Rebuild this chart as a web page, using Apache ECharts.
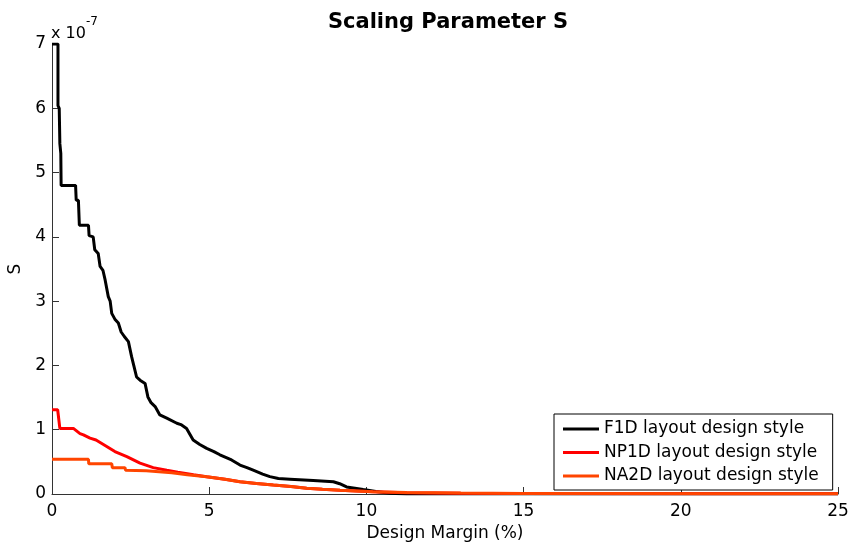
<!DOCTYPE html>
<html>
<head>
<meta charset="utf-8">
<script src="https://cdn.jsdelivr.net/npm/echarts@6/dist/echarts.min.js"></script>
<style>html,body{margin:0;padding:0;background:#fff}#c{width:853px;height:546px}</style>
</head>
<body>
<div id="c"></div>
<script>
// Values in units of 1e-7 (axis multiplier shown as "x 10^-7")
const seriesNames = ['F1D layout design style', 'NP1D layout design style', 'NA2D layout design style'];
const xTicks = [0, 5, 10, 15, 20, 25];
const yTicks = [0, 1, 2, 3, 4, 5, 6, 7];
const f1dX = [0, 0.19, 0.19, 0.23, 0.25, 0.28, 0.29, 0.75, 0.77, 0.84, 0.87, 1.16, 1.18, 1.31, 1.36, 1.47, 1.53, 1.62, 1.69, 1.79, 1.85, 1.9, 2.0, 2.11, 2.2, 2.3, 2.43, 2.53, 2.6, 2.69, 2.8, 2.96, 3.05, 3.15, 3.28, 3.43, 3.65, 3.97, 4.1, 4.28, 4.49, 4.7, 4.92, 5.15, 5.34, 5.71, 5.98, 6.2, 6.4, 6.7, 6.93, 7.2, 7.57, 8.31, 8.95, 9.15, 9.37, 9.9, 10.3, 10.75, 11.28, 25];
const f1dY = [7.0, 7.0, 6.04, 6.0, 5.45, 5.3, 4.8, 4.8, 4.57, 4.57, 4.18, 4.18, 4.02, 4.0, 3.8, 3.74, 3.54, 3.48, 3.33, 3.07, 3.0, 2.81, 2.72, 2.66, 2.52, 2.45, 2.37, 2.14, 2.0, 1.82, 1.77, 1.72, 1.51, 1.42, 1.36, 1.23, 1.18, 1.1, 1.08, 1.02, 0.84, 0.77, 0.71, 0.66, 0.61, 0.53, 0.45, 0.41, 0.37, 0.31, 0.27, 0.24, 0.23, 0.21, 0.19, 0.16, 0.11, 0.07, 0.04, 0.01, 0.0, 0.0];
const np1dX = [0, 0.18, 0.25, 0.68, 0.89, 1.0, 1.21, 1.4, 1.74, 2.0, 2.38, 2.8, 3.22, 3.65, 4.0, 4.5, 4.92, 5.5, 5.98, 6.5, 7.04, 7.6, 8.1, 8.6, 9.16, 10.2, 11.28, 13, 15, 18, 21, 25];
const np1dY = [1.31, 1.31, 1.02, 1.02, 0.94, 0.92, 0.87, 0.84, 0.74, 0.66, 0.58, 0.48, 0.41, 0.37, 0.34, 0.3, 0.27, 0.23, 0.19, 0.165, 0.14, 0.115, 0.09, 0.075, 0.06, 0.036, 0.02, 0.012, 0.008, 0.005, 0.003, 0.002];
const na2dX = [0, 1.16, 1.17, 1.9, 1.92, 2.32, 2.34, 3.0, 3.81, 4.3, 4.92, 5.5, 5.98, 6.5, 7.04, 7.6, 8.1, 8.6, 9.16, 10.2, 11.28, 13, 15, 18, 21, 25];
const na2dY = [0.54, 0.54, 0.47, 0.47, 0.41, 0.41, 0.37, 0.36, 0.33, 0.30, 0.27, 0.23, 0.19, 0.165, 0.14, 0.115, 0.09, 0.075, 0.06, 0.036, 0.022, 0.014, 0.009, 0.006, 0.004, 0.003];
const colors = ['#000000', '#ff0000', '#ff4500'];

const zip = (xs, ys) => xs.map((x, i) => [x, ys[i]]);
const FONT = 'DejaVu Sans';
const chart = echarts.init(document.getElementById('c'), null, {renderer: 'canvas'});
chart.setOption({
  animation: false,
  backgroundColor: '#fff',
  title: {
    text: 'Scaling Parameter S', left: 443, textAlign: 'center', top: 7,
    textStyle: {fontFamily: FONT, fontSize: 21, fontWeight: 'bold', color: '#000'}
  },
  grid: {left: 52, top: 44, width: 786, height: 450, containLabel: false, outerBoundsMode: 'none'},
  xAxis: {
    type: 'value', min: 0, max: 25, interval: 5,
    name: 'Design Margin (%)', nameLocation: 'middle', nameGap: 20,
    nameTextStyle: {fontFamily: FONT, fontSize: 17, color: '#000'},
    axisLine: {onZero: false, lineStyle: {color: '#333', width: 1}},
    axisTick: {inside: true, length: 7, lineStyle: {color: '#333'}},
    axisLabel: {fontFamily: FONT, fontSize: 17, color: '#000', margin: 9,
      formatter: v => xTicks.includes(v) ? String(v) : ''},
    splitLine: {show: false}
  },
  yAxis: {
    type: 'value', min: 0, max: 7, interval: 1,
    name: 'S', nameLocation: 'middle', nameGap: 28, nameRotate: 90,
    nameTextStyle: {fontFamily: FONT, fontSize: 17, color: '#000'},
    axisLine: {show: true, lineStyle: {color: '#333', width: 1}},
    axisTick: {show: true, inside: true, length: 7, lineStyle: {color: '#333'}},
    axisLabel: {fontFamily: FONT, fontSize: 17, color: '#000', margin: 6,
      formatter: v => yTicks.includes(v) ? String(v) : ''},
    splitLine: {show: false}
  },
  legend: {
    orient: 'vertical', left: 554, top: 414,
    backgroundColor: '#fff', borderColor: '#000', borderWidth: 1,
    padding: [5, 14, 4, 9], itemGap: 3.5, itemWidth: 36, itemHeight: 3,
    icon: 'rect',
    textStyle: {fontFamily: FONT, fontSize: 17, color: '#000', lineHeight: 20},
    data: seriesNames
  },
  graphic: [{
    type: 'text', left: 51, top: 16,
    style: {
      text: '{a|x 10}{b|-7}',
      rich: {
        a: {fontFamily: FONT, fontSize: 16, fill: '#000', padding: [10, 0, 0, 0]},
        b: {fontFamily: FONT, fontSize: 12, fill: '#000', verticalAlign: 'top', padding: [0, 0, 10, 0]}
      }
    }
  }],
  series: [
    {name: seriesNames[0], type: 'line', symbol: 'none', data: zip(f1dX, f1dY),
     lineStyle: {color: colors[0], width: 3}, itemStyle: {color: colors[0]}},
    {name: seriesNames[1], type: 'line', symbol: 'none', data: zip(np1dX, np1dY),
     lineStyle: {color: colors[1], width: 3}, itemStyle: {color: colors[1]}},
    {name: seriesNames[2], type: 'line', symbol: 'none', data: zip(na2dX, na2dY),
     lineStyle: {color: colors[2], width: 3}, itemStyle: {color: colors[2]}}
  ]
});
</script>
</body>
</html>
